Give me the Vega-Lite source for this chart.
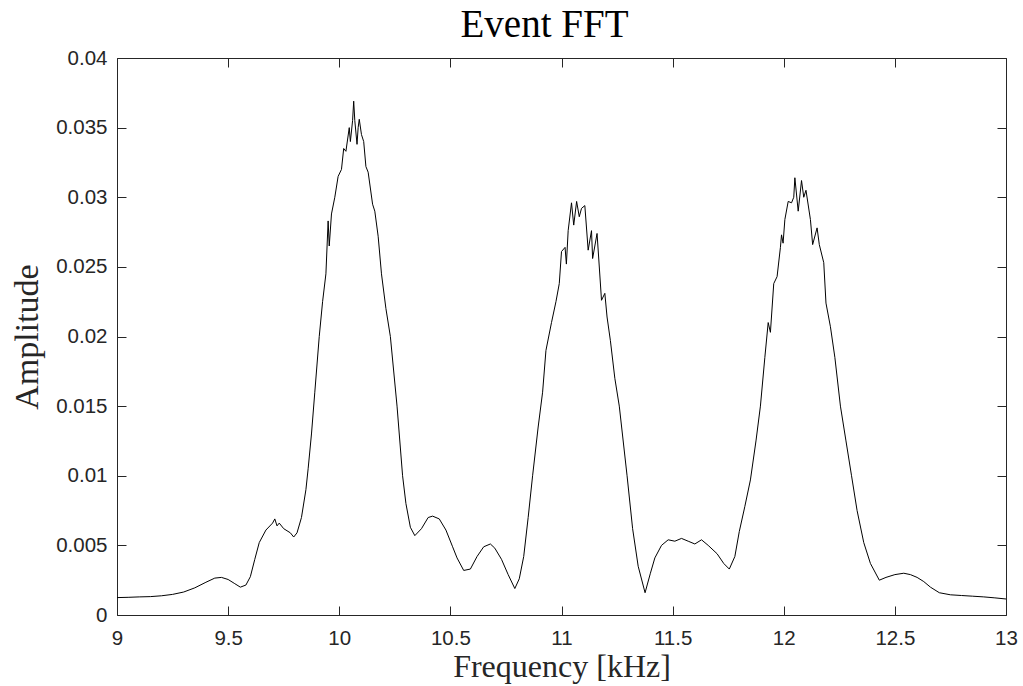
{
  "$schema": "https://vega.github.io/schema/vega-lite/v6.json",
  "width": 889,
  "height": 557,
  "autosize": "none",
  "padding": {"left": 117, "top": 58, "right": 17, "bottom": 71},
  "background": "white",
  "title": {"text": "Event FFT", "font": "Liberation Serif", "fontSize": 39, "fontWeight": "normal", "color": "#000000", "baseline": "alphabetic", "offset": 23, "dy": 51, "dx": -17, "anchor": "middle"},
  "config": {
    "view": {"stroke": "#262626", "strokeWidth": 1},
    "axis": {"domain": false, "grid": false, "tickColor": "#262626", "tickSize": -9, "tickWidth": 1,
      "labelFont": "Liberation Sans", "labelFontSize": 20.5, "labelColor": "#262626", "labelOverlap": false, "labelFlush": false,
      "titleFont": "Liberation Serif", "titleFontSize": 32, "titleFontWeight": "normal", "titleColor": "#262626"}
  },
  "data": {"values": [
    {"f": 9.00, "a": 0.00125}, {"f": 9.05, "a": 0.00127}, {"f": 9.10, "a": 0.00130}, {"f": 9.15, "a": 0.00132},
    {"f": 9.20, "a": 0.00138}, {"f": 9.25, "a": 0.00148}, {"f": 9.30, "a": 0.00165}, {"f": 9.35, "a": 0.00195},
    {"f": 9.40, "a": 0.00235}, {"f": 9.44, "a": 0.00265}, {"f": 9.47, "a": 0.00270}, {"f": 9.50, "a": 0.00255},
    {"f": 9.53, "a": 0.00225}, {"f": 9.555, "a": 0.00200}, {"f": 9.58, "a": 0.00215}, {"f": 9.60, "a": 0.00275},
    {"f": 9.62, "a": 0.0040}, {"f": 9.64, "a": 0.0052}, {"f": 9.67, "a": 0.0061}, {"f": 9.70, "a": 0.0066},
    {"f": 9.71, "a": 0.0069}, {"f": 9.72, "a": 0.0064}, {"f": 9.73, "a": 0.0066}, {"f": 9.75, "a": 0.0062},
    {"f": 9.78, "a": 0.0059}, {"f": 9.795, "a": 0.0056}, {"f": 9.81, "a": 0.0059}, {"f": 9.83, "a": 0.0070},
    {"f": 9.85, "a": 0.0090}, {"f": 9.86, "a": 0.0105}, {"f": 9.875, "a": 0.0130}, {"f": 9.89, "a": 0.0160},
    {"f": 9.91, "a": 0.0200}, {"f": 9.925, "a": 0.0225}, {"f": 9.94, "a": 0.0245}, {"f": 9.95, "a": 0.0283},
    {"f": 9.955, "a": 0.0265}, {"f": 9.965, "a": 0.0288}, {"f": 9.98, "a": 0.0300}, {"f": 9.995, "a": 0.0315},
    {"f": 10.01, "a": 0.0320}, {"f": 10.02, "a": 0.0335}, {"f": 10.03, "a": 0.0333}, {"f": 10.045, "a": 0.0350},
    {"f": 10.05, "a": 0.0340}, {"f": 10.06, "a": 0.0355}, {"f": 10.065, "a": 0.0369}, {"f": 10.07, "a": 0.0355},
    {"f": 10.08, "a": 0.0338}, {"f": 10.085, "a": 0.0350}, {"f": 10.09, "a": 0.0356}, {"f": 10.10, "a": 0.0345},
    {"f": 10.11, "a": 0.0340}, {"f": 10.12, "a": 0.0322}, {"f": 10.13, "a": 0.0318}, {"f": 10.15, "a": 0.0295},
    {"f": 10.16, "a": 0.0290}, {"f": 10.175, "a": 0.0272}, {"f": 10.19, "a": 0.0245}, {"f": 10.21, "a": 0.0220},
    {"f": 10.23, "a": 0.0200}, {"f": 10.26, "a": 0.0150}, {"f": 10.285, "a": 0.0100}, {"f": 10.30, "a": 0.0080},
    {"f": 10.32, "a": 0.0063}, {"f": 10.34, "a": 0.0057}, {"f": 10.37, "a": 0.0062}, {"f": 10.40, "a": 0.0070},
    {"f": 10.42, "a": 0.0071}, {"f": 10.45, "a": 0.0069}, {"f": 10.48, "a": 0.0061}, {"f": 10.51, "a": 0.0049},
    {"f": 10.53, "a": 0.0041}, {"f": 10.56, "a": 0.0032}, {"f": 10.59, "a": 0.0033}, {"f": 10.62, "a": 0.0042},
    {"f": 10.65, "a": 0.0049}, {"f": 10.68, "a": 0.0051}, {"f": 10.70, "a": 0.0048}, {"f": 10.73, "a": 0.0040},
    {"f": 10.76, "a": 0.0029}, {"f": 10.79, "a": 0.0019}, {"f": 10.81, "a": 0.0026}, {"f": 10.83, "a": 0.0042},
    {"f": 10.85, "a": 0.0070}, {"f": 10.87, "a": 0.0100}, {"f": 10.895, "a": 0.0135}, {"f": 10.915, "a": 0.0160},
    {"f": 10.93, "a": 0.0190}, {"f": 10.955, "a": 0.0210}, {"f": 10.975, "a": 0.0225}, {"f": 10.99, "a": 0.0238},
    {"f": 11.00, "a": 0.0261}, {"f": 11.016, "a": 0.0264}, {"f": 11.022, "a": 0.0252}, {"f": 11.03, "a": 0.0276},
    {"f": 11.045, "a": 0.0296}, {"f": 11.055, "a": 0.0280}, {"f": 11.068, "a": 0.0297}, {"f": 11.08, "a": 0.0286},
    {"f": 11.09, "a": 0.0292}, {"f": 11.105, "a": 0.0294}, {"f": 11.12, "a": 0.0262}, {"f": 11.135, "a": 0.0276},
    {"f": 11.14, "a": 0.0256}, {"f": 11.16, "a": 0.0274}, {"f": 11.18, "a": 0.0226}, {"f": 11.195, "a": 0.0231},
    {"f": 11.205, "a": 0.0214}, {"f": 11.22, "a": 0.0197}, {"f": 11.24, "a": 0.0170}, {"f": 11.26, "a": 0.0150},
    {"f": 11.295, "a": 0.0100}, {"f": 11.32, "a": 0.0062}, {"f": 11.345, "a": 0.0035}, {"f": 11.376, "a": 0.0016},
    {"f": 11.40, "a": 0.0030}, {"f": 11.42, "a": 0.0041}, {"f": 11.45, "a": 0.0050}, {"f": 11.48, "a": 0.0054},
    {"f": 11.51, "a": 0.0053}, {"f": 11.54, "a": 0.0055}, {"f": 11.57, "a": 0.0053}, {"f": 11.60, "a": 0.0051},
    {"f": 11.63, "a": 0.0054}, {"f": 11.66, "a": 0.0050}, {"f": 11.70, "a": 0.0044}, {"f": 11.73, "a": 0.0037},
    {"f": 11.755, "a": 0.0033}, {"f": 11.78, "a": 0.0042}, {"f": 11.80, "a": 0.0060}, {"f": 11.825, "a": 0.0078},
    {"f": 11.85, "a": 0.0097}, {"f": 11.875, "a": 0.0125}, {"f": 11.895, "a": 0.0150}, {"f": 11.915, "a": 0.0185},
    {"f": 11.93, "a": 0.0210}, {"f": 11.94, "a": 0.0203}, {"f": 11.955, "a": 0.0238}, {"f": 11.97, "a": 0.0243},
    {"f": 11.985, "a": 0.0264}, {"f": 11.99, "a": 0.0273}, {"f": 11.997, "a": 0.0267}, {"f": 12.005, "a": 0.0284},
    {"f": 12.02, "a": 0.0297}, {"f": 12.035, "a": 0.0296}, {"f": 12.045, "a": 0.0300}, {"f": 12.05, "a": 0.0314},
    {"f": 12.065, "a": 0.0290}, {"f": 12.08, "a": 0.0312}, {"f": 12.09, "a": 0.0300}, {"f": 12.10, "a": 0.0305},
    {"f": 12.12, "a": 0.0284}, {"f": 12.13, "a": 0.0266}, {"f": 12.15, "a": 0.0278}, {"f": 12.16, "a": 0.0266},
    {"f": 12.18, "a": 0.0253}, {"f": 12.19, "a": 0.0224}, {"f": 12.21, "a": 0.0207}, {"f": 12.23, "a": 0.0185},
    {"f": 12.255, "a": 0.0150}, {"f": 12.28, "a": 0.0125}, {"f": 12.305, "a": 0.0100}, {"f": 12.33, "a": 0.0075},
    {"f": 12.36, "a": 0.0052}, {"f": 12.39, "a": 0.0037}, {"f": 12.43, "a": 0.0025}, {"f": 12.46, "a": 0.0027},
    {"f": 12.50, "a": 0.0029}, {"f": 12.54, "a": 0.0030}, {"f": 12.57, "a": 0.0029}, {"f": 12.60, "a": 0.0027},
    {"f": 12.63, "a": 0.0024}, {"f": 12.66, "a": 0.0020}, {"f": 12.70, "a": 0.0016}, {"f": 12.75, "a": 0.00145},
    {"f": 12.80, "a": 0.00140}, {"f": 12.85, "a": 0.00135}, {"f": 12.90, "a": 0.00130}, {"f": 12.95, "a": 0.00123},
    {"f": 13.00, "a": 0.00115}
  ]},
  "layer": [
    {
      "mark": {"type": "line", "color": "#000000", "strokeWidth": 1},
      "encoding": {
        "x": {"field": "f", "type": "quantitative",
          "scale": {"domain": [9, 13], "nice": false, "zero": false},
          "axis": {"orient": "bottom", "values": [9, 9.5, 10, 10.5, 11, 11.5, 12, 12.5, 13], "format": "~g",
            "labelPadding": 22, "title": "Frequency [kHz]", "titleBaseline": "alphabetic", "titleY": 61}},
        "y": {"field": "a", "type": "quantitative",
          "scale": {"domain": [0, 0.04], "nice": false, "zero": true},
          "axis": {"orient": "left", "values": [0, 0.005, 0.01, 0.015, 0.02, 0.025, 0.03, 0.035, 0.04], "format": "~g",
            "labelPadding": 19, "title": "Amplitude", "titleFontSize": 34, "titleAngle": -90, "titleBaseline": "alphabetic", "titleX": -80}}
      }
    },
    {
      "mark": {"type": "line", "opacity": 0},
      "encoding": {
        "x": {"field": "f", "type": "quantitative",
          "axis": {"orient": "top", "values": [9, 9.5, 10, 10.5, 11, 11.5, 12, 12.5, 13], "labels": false, "title": null}},
        "y": {"field": "a", "type": "quantitative",
          "axis": {"orient": "right", "values": [0, 0.005, 0.01, 0.015, 0.02, 0.025, 0.03, 0.035, 0.04], "labels": false, "title": null}}
      }
    }
  ],
  "resolve": {"axis": {"x": "independent", "y": "independent"}}
}
